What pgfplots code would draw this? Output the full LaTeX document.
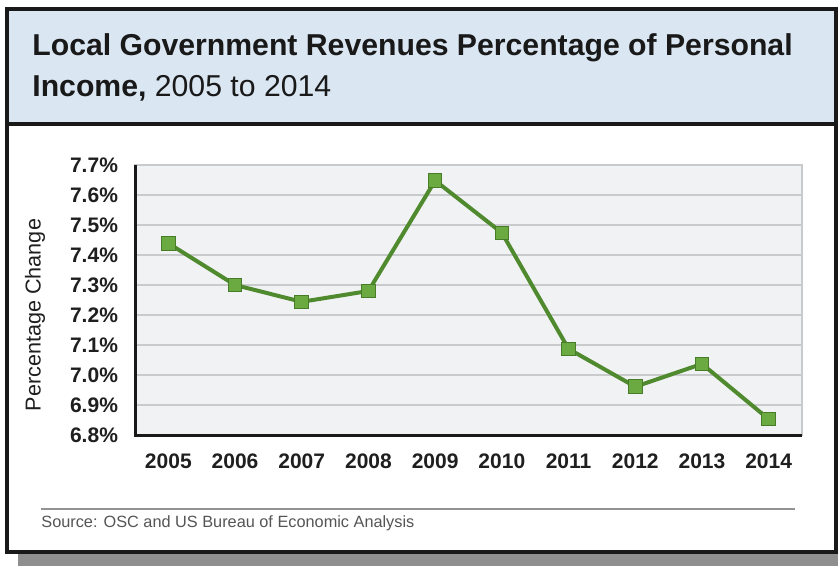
\documentclass[border=0pt]{standalone}
\usepackage{fontspec}
\setmainfont{Liberation Sans}
\usepackage{pgfplots}
\pgfplotsset{compat=1.18}

\definecolor{titlebg}{HTML}{DAE6F2}
\definecolor{plotbg}{HTML}{F1F2F4}
\definecolor{gridgray}{HTML}{C9CACC}
\definecolor{linegreen}{HTML}{4F8A2E}
\definecolor{markgreen}{HTML}{6BAA41}
\definecolor{shadow}{HTML}{8F8F8F}
\definecolor{srcgray}{HTML}{555555}

\begin{document}
\begin{tikzpicture}
% frame and text, in pixel units of the reference (y downwards)
\begin{scope}[x=0.5pt,y=-0.5pt]
  \useasboundingbox (0,0) rectangle (838,566);
  \fill[shadow] (18,550) rectangle (838,566);
  \fill[white] (7,9) rectangle (836,552);
  \fill[titlebg] (9,11) rectangle (834,122);
  \draw[black!90, line width=2.2pt] (7,9) rectangle (836,552);
  \draw[black!90, line width=2pt] (7,124) -- (836,124);
  \node[anchor=base west, inner sep=0pt, font=\fontsize{15.1}{16}\selectfont\bfseries, text=black!90]
    at (32,56) {Local Government Revenues Percentage of Personal};
  \node[anchor=base west, inner sep=0pt, font=\fontsize{15.1}{16}\selectfont, text=black!90]
    at (32,97) {\textbf{Income,} 2005 to 2014};
  \draw[gray!85, line width=0.75pt] (41,509) -- (795,509);
  \node[anchor=base west, inner sep=0pt, font=\fontsize{8.15}{9}\selectfont, text=srcgray]
    at (41,527) {Source: OSC and US Bureau of Economic Analysis};
  \node[rotate=90, inner sep=0pt, font=\fontsize{10.8}{12}\selectfont, text=black!88]
    at (35,315) {Percentage Change};
\end{scope}

\begin{axis}[
    scale only axis,
    width=333.5pt, height=135pt,
    at={(67.5pt,-217.5pt)}, anchor=south west,
    xmin=-0.5, xmax=9.5,
    ymin=6.8, ymax=7.7,
    xtick={0,1,2,3,4,5,6,7,8,9},
    xticklabels={2005,2006,2007,2008,2009,2010,2011,2012,2013,2014},
    ytick={6.8,6.9,7.0,7.1,7.2,7.3,7.4,7.5,7.6,7.7},
    yticklabel={\pgfmathprintnumber[fixed,fixed zerofill,precision=1]{\tick}\%},
    /pgf/number format/assume math mode=true,
    major tick length=0pt,
    tick label style={font=\fontsize{10.5}{11}\selectfont\bfseries, text=black!88},
    yticklabel style={xshift=-5pt},
    xticklabel style={yshift=-6pt},
    ymajorgrids,
    grid style={gridgray, line width=0.6pt},
    axis line style={gridgray, line width=0.6pt},
    axis background/.style={fill=plotbg},
    after end axis/.code={
      \draw[black!90, line width=1.5pt] (rel axis cs:0,1) -- (rel axis cs:0,0) -- (rel axis cs:1,0);
    },
    clip=false,
]
\addplot[linegreen, line width=2pt, mark=square*,
    mark size=3.4pt,
    mark options={fill=markgreen, draw=linegreen!90!black, line width=0.5pt}]
coordinates {
    (0,7.439) (1,7.300) (2,7.244) (3,7.280) (4,7.648)
    (5,7.474) (6,7.087) (7,6.961) (8,7.037) (9,6.853)
};
\end{axis}
\end{tikzpicture}
\end{document}
